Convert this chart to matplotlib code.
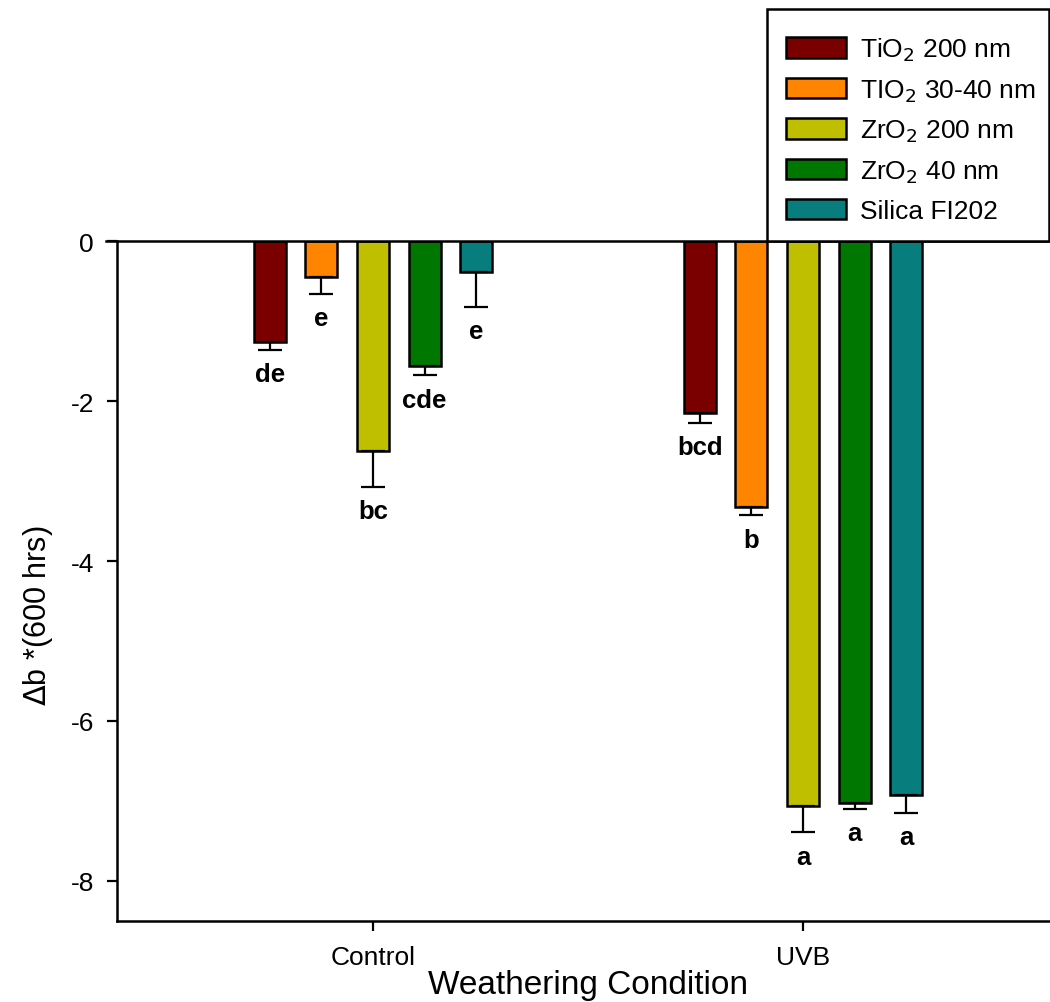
import matplotlib
matplotlib.use("Agg")
import matplotlib.pyplot as plt
import matplotlib.patches as mpatches
import numpy as np

plt.rcParams['font.family'] = ['Liberation Sans', 'DejaVu Sans']

# Weathering conditions and particle treatments
conditions = ["Control", "UVB"]
treatments = ["TiO$_2$ 200 nm", "TIO$_2$ 30-40 nm", "ZrO$_2$ 200 nm",
              "ZrO$_2$ 40 nm", "Silica FI202"]
colors = ["#7a0000", "#ff8400", "#bfbf00", "#007800", "#087d7d"]

# Mean change in b* after 600 hrs (rows: treatments, cols: conditions)
tio2_200 = [-1.26, -2.15]
tio2_3040 = [-0.45, -3.32]
zro2_200 = [-2.62, -7.06]
zro2_40 = [-1.56, -7.02]
silica = [-0.39, -6.93]
means = [tio2_200, tio2_3040, zro2_200, zro2_40, silica]

# Standard errors
err_tio2_200 = [0.10, 0.125]
err_tio2_3040 = [0.21, 0.11]
err_zro2_200 = [0.45, 0.33]
err_zro2_40 = [0.12, 0.08]
err_silica = [0.43, 0.22]
errors = [err_tio2_200, err_tio2_3040, err_zro2_200, err_zro2_40, err_silica]

# Significance groupings
letters_tio2_200 = ["de", "bcd"]
letters_tio2_3040 = ["e", "b"]
letters_zro2_200 = ["bc", "a"]
letters_zro2_40 = ["cde", "a"]
letters_silica = ["e", "a"]
letters = [letters_tio2_200, letters_tio2_3040, letters_zro2_200,
           letters_zro2_40, letters_silica]

W, H = 1050, 1003
fig = plt.figure(figsize=(W / 100, H / 100), dpi=100)
ax_l, ax_r, ax_t, ax_b = 117, 1059, 242, 922
ax = fig.add_axes([ax_l / W, 1 - ax_b / H, (ax_r - ax_l) / W, (ax_b - ax_t) / H])

x = np.arange(len(conditions))
step = 0.12
width = 0.074
offsets = (np.arange(len(treatments)) - 2) * step

handles = []
for i in range(len(treatments)):
    xs = x + offsets[i]
    bars = ax.bar(xs, means[i], width, color=colors[i], edgecolor="black",
                  linewidth=1.8, label=treatments[i], zorder=2)
    handles.append(bars)
    lo = np.array(errors[i])
    ax.errorbar(xs, means[i], yerr=[lo, np.zeros_like(lo)], fmt="none",
                ecolor="black", elinewidth=1.6, capsize=8.5, capthick=1.6,
                zorder=3)
    for xi, m, e, lab in zip(xs, means[i], errors[i], letters[i]):
        ax.annotate(lab, (xi, m - e), xytext=(0, -17.5),
                    textcoords="offset points", ha="center", va="center",
                    fontsize=18.5, fontweight="bold")

ax.set_xlim(-256 / 430, 1 + 256 / 430)
ax.set_ylim(-8.5, 0)
ax.set_yticks([0, -2, -4, -6, -8])
ax.set_yticklabels(["0", "-2", "-4", "-6", "-8"])
ax.set_xticks(x)
ax.set_xticklabels(conditions)
ax.tick_params(axis="both", direction="out", length=7, width=1.6,
               labelsize=19, pad=9.5)
ax.tick_params(axis="x", pad=10)
for side in ["left", "bottom", "top"]:
    ax.spines[side].set_linewidth(1.8)
ax.spines["right"].set_visible(False)
ax.spines["top"].set_bounds(-0.62, 1.6)
ax.spines["top"].set_zorder(4)

ax.set_xlabel("Weathering Condition", fontsize=24, labelpad=0)
ax.xaxis.set_label_coords(0.5, -0.07)
ax.set_ylabel(r"$\Delta$b *(600 hrs)", fontsize=22)
ax.yaxis.set_label_coords(-0.066, 0.45)

# Legend box above the plot
fig.patches.append(mpatches.Rectangle((767 / W, 1 - 242 / H), (1049 - 767) / W,
                                      (242 - 10) / H, transform=fig.transFigure,
                                      facecolor="white", edgecolor="black",
                                      linewidth=1.8, zorder=1))
leg = fig.legend(handles=handles, labels=treatments, loc="upper left",
                 bbox_to_anchor=(762 / W, 1 - 13 / H), frameon=False,
                 fontsize=19, handlelength=2.3, handleheight=0.8,
                 labelspacing=0.53, handletextpad=0.5, borderpad=0.4)
leg.set_zorder(5)

fig.savefig("out.png", dpi=100)
